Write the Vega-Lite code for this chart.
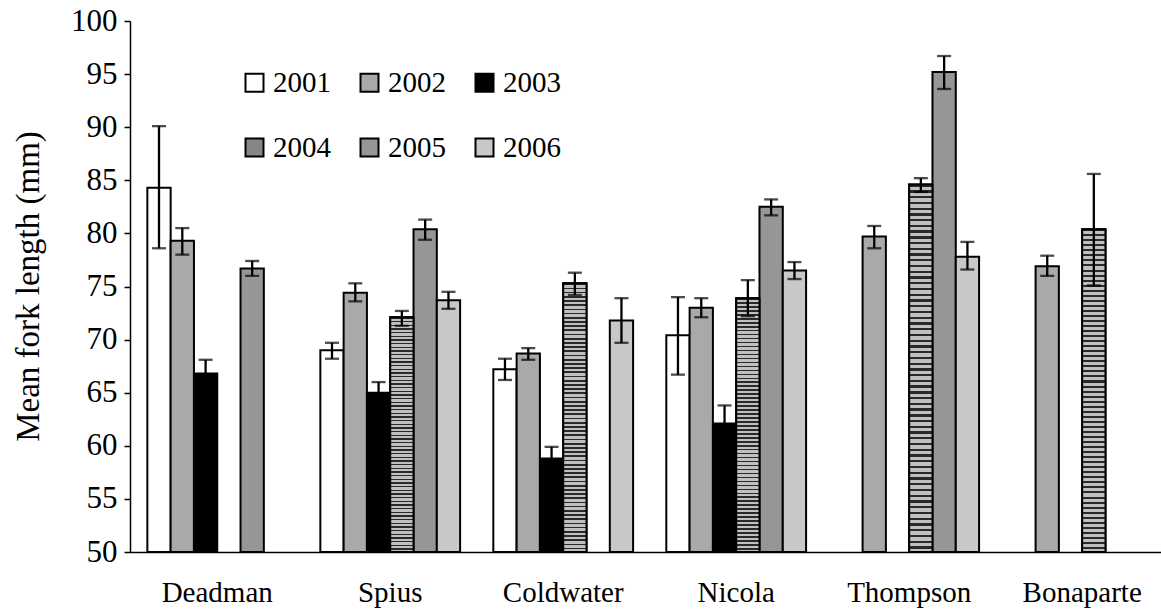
{
  "$schema": "https://vega.github.io/schema/vega-lite/v6.json",
  "autosize": {"type": "none"},
  "padding": {"left": 130, "top": 21, "right": 0, "bottom": 59},
  "width": 1031,
  "height": 531,
  "background": "white",
  "config": {
    "view": {"stroke": null},
    "font": "Liberation Serif",
    "axis": {"labelFont": "Liberation Serif", "titleFont": "Liberation Serif", "labelColor": "black", "titleColor": "black", "domainColor": "black", "tickColor": "black", "grid": false},
    "legend": {"labelFont": "Liberation Serif"}
  },
  "data": {
    "values": [
      {"site": "Deadman", "year": "2001", "mean": 84.3, "lo": 78.6, "hi": 90.1},
      {"site": "Deadman", "year": "2002", "mean": 79.3, "lo": 78.0, "hi": 80.5},
      {"site": "Deadman", "year": "2003", "mean": 66.8, "lo": 65.6, "hi": 68.1},
      {"site": "Deadman", "year": "2005", "mean": 76.7, "lo": 76.0, "hi": 77.4},
      {"site": "Spius", "year": "2001", "mean": 69.0, "lo": 68.2, "hi": 69.7},
      {"site": "Spius", "year": "2002", "mean": 74.4, "lo": 73.6, "hi": 75.3},
      {"site": "Spius", "year": "2003", "mean": 65.0, "lo": 64.0, "hi": 66.0},
      {"site": "Spius", "year": "2004", "mean": 72.1, "lo": 71.3, "hi": 72.7},
      {"site": "Spius", "year": "2005", "mean": 80.4, "lo": 79.4, "hi": 81.3},
      {"site": "Spius", "year": "2006", "mean": 73.7, "lo": 72.9, "hi": 74.5},
      {"site": "Coldwater", "year": "2001", "mean": 67.2, "lo": 66.2, "hi": 68.2},
      {"site": "Coldwater", "year": "2002", "mean": 68.7, "lo": 68.1, "hi": 69.2},
      {"site": "Coldwater", "year": "2003", "mean": 58.8, "lo": 57.7, "hi": 59.9},
      {"site": "Coldwater", "year": "2004", "mean": 75.3, "lo": 74.2, "hi": 76.3},
      {"site": "Coldwater", "year": "2006", "mean": 71.8, "lo": 69.7, "hi": 73.9},
      {"site": "Nicola", "year": "2001", "mean": 70.4, "lo": 66.7, "hi": 74.0},
      {"site": "Nicola", "year": "2002", "mean": 73.0, "lo": 72.1, "hi": 73.9},
      {"site": "Nicola", "year": "2003", "mean": 62.1, "lo": 60.3, "hi": 63.8},
      {"site": "Nicola", "year": "2004", "mean": 73.9, "lo": 72.2, "hi": 75.6},
      {"site": "Nicola", "year": "2005", "mean": 82.5, "lo": 81.7, "hi": 83.2},
      {"site": "Nicola", "year": "2006", "mean": 76.5, "lo": 75.7, "hi": 77.3},
      {"site": "Thompson", "year": "2002", "mean": 79.7, "lo": 78.6, "hi": 80.7},
      {"site": "Thompson", "year": "2004", "mean": 84.6, "lo": 83.9, "hi": 85.2},
      {"site": "Thompson", "year": "2005", "mean": 95.2, "lo": 93.6, "hi": 96.7},
      {"site": "Thompson", "year": "2006", "mean": 77.8, "lo": 76.6, "hi": 79.2},
      {"site": "Bonaparte", "year": "2002", "mean": 76.9, "lo": 76.0, "hi": 77.9},
      {"site": "Bonaparte", "year": "2004", "mean": 80.4, "lo": 75.1, "hi": 85.6}
    ]
  },
  "encoding": {
    "x": {
      "field": "site", "type": "nominal",
      "sort": ["Deadman", "Spius", "Coldwater", "Nicola", "Thompson", "Bonaparte"],
      "scale": {"paddingInner": 0.192, "paddingOuter": 0.076, "align": 0.66},
      "axis": {"title": null, "labelAngle": 0, "labelFont": "Liberation Serif", "labelFontSize": 29, "labelPadding": 26, "ticks": false, "domainWidth": 1.5}
    },
    "xOffset": {
      "field": "year", "type": "nominal",
      "scale": {"domain": ["2001", "2002", "2003", "2004", "2005", "2006"], "paddingInner": 0, "paddingOuter": 0}
    }
  },
  "layer": [
    {
      "mark": {"type": "bar", "stroke": "black", "strokeWidth": 2},
      "encoding": {
        "y": {
          "field": "mean", "type": "quantitative",
          "scale": {"domain": [50, 100], "nice": false, "zero": false},
          "axis": {"title": "Mean fork length (mm)", "values": [50, 55, 60, 65, 70, 75, 80, 85, 90, 95, 100], "labelFont": "Liberation Serif", "labelFontSize": 31, "labelPadding": 7, "tickSize": 6, "tickWidth": 1.5, "domainWidth": 1.5, "titleFont": "Liberation Serif", "titleFontSize": 33, "titleFontWeight": "normal", "titleX": -102, "titleY": 265, "titleAlign": "center", "titleBaseline": "middle", "titleAngle": -90}
        },
        "y2": {"datum": 50},
        "fill": {
          "field": "year", "type": "nominal",
          "scale": {
            "domain": ["2001", "2002", "2003", "2004", "2005", "2006"],
            "range": ["#ffffff", "#a9a9a9", "#000000", "#868686", "#969696", "#c8c8c8"]
          },
          "legend": {
            "title": null, "orient": "none", "legendX": 110, "legendY": 47,
            "direction": "horizontal", "columns": 3, "columnPadding": 24, "rowPadding": 35,
            "symbolType": "square", "symbolSize": 324, "symbolStrokeColor": "black", "symbolStrokeWidth": 2,
            "labelFont": "Liberation Serif", "labelFontSize": 29, "labelColor": "black", "labelOffset": 4
          }
        }
      }
    },
    {
      "transform": [{"filter": "datum.year == '2004'"}],
      "mark": {
        "type": "bar", "stroke": "black", "strokeWidth": 2,
        "fill": {
          "gradient": "linear", "x1": 0, "y1": 0, "x2": 0, "y2": 1,
          "stops": [
            {"offset": 0, "color": "#2a2a2a"}, {"offset": 0.00625, "color": "#2a2a2a"}, {"offset": 0.00625, "color": "#c0c0c0"}, {"offset": 0.015625, "color": "#c0c0c0"},
            {"offset": 0.015625, "color": "#2a2a2a"}, {"offset": 0.021875, "color": "#2a2a2a"}, {"offset": 0.021875, "color": "#c0c0c0"}, {"offset": 0.03125, "color": "#c0c0c0"},
            {"offset": 0.03125, "color": "#2a2a2a"}, {"offset": 0.0375, "color": "#2a2a2a"}, {"offset": 0.0375, "color": "#c0c0c0"}, {"offset": 0.046875, "color": "#c0c0c0"},
            {"offset": 0.046875, "color": "#2a2a2a"}, {"offset": 0.053125, "color": "#2a2a2a"}, {"offset": 0.053125, "color": "#c0c0c0"}, {"offset": 0.0625, "color": "#c0c0c0"},
            {"offset": 0.0625, "color": "#2a2a2a"}, {"offset": 0.06875, "color": "#2a2a2a"}, {"offset": 0.06875, "color": "#c0c0c0"}, {"offset": 0.078125, "color": "#c0c0c0"},
            {"offset": 0.078125, "color": "#2a2a2a"}, {"offset": 0.084375, "color": "#2a2a2a"}, {"offset": 0.084375, "color": "#c0c0c0"}, {"offset": 0.09375, "color": "#c0c0c0"},
            {"offset": 0.09375, "color": "#2a2a2a"}, {"offset": 0.1, "color": "#2a2a2a"}, {"offset": 0.1, "color": "#c0c0c0"}, {"offset": 0.109375, "color": "#c0c0c0"},
            {"offset": 0.109375, "color": "#2a2a2a"}, {"offset": 0.115625, "color": "#2a2a2a"}, {"offset": 0.115625, "color": "#c0c0c0"}, {"offset": 0.125, "color": "#c0c0c0"},
            {"offset": 0.125, "color": "#2a2a2a"}, {"offset": 0.13125, "color": "#2a2a2a"}, {"offset": 0.13125, "color": "#c0c0c0"}, {"offset": 0.140625, "color": "#c0c0c0"},
            {"offset": 0.140625, "color": "#2a2a2a"}, {"offset": 0.146875, "color": "#2a2a2a"}, {"offset": 0.146875, "color": "#c0c0c0"}, {"offset": 0.15625, "color": "#c0c0c0"},
            {"offset": 0.15625, "color": "#2a2a2a"}, {"offset": 0.1625, "color": "#2a2a2a"}, {"offset": 0.1625, "color": "#c0c0c0"}, {"offset": 0.171875, "color": "#c0c0c0"},
            {"offset": 0.171875, "color": "#2a2a2a"}, {"offset": 0.178125, "color": "#2a2a2a"}, {"offset": 0.178125, "color": "#c0c0c0"}, {"offset": 0.1875, "color": "#c0c0c0"},
            {"offset": 0.1875, "color": "#2a2a2a"}, {"offset": 0.19375, "color": "#2a2a2a"}, {"offset": 0.19375, "color": "#c0c0c0"}, {"offset": 0.203125, "color": "#c0c0c0"},
            {"offset": 0.203125, "color": "#2a2a2a"}, {"offset": 0.209375, "color": "#2a2a2a"}, {"offset": 0.209375, "color": "#c0c0c0"}, {"offset": 0.21875, "color": "#c0c0c0"},
            {"offset": 0.21875, "color": "#2a2a2a"}, {"offset": 0.225, "color": "#2a2a2a"}, {"offset": 0.225, "color": "#c0c0c0"}, {"offset": 0.234375, "color": "#c0c0c0"},
            {"offset": 0.234375, "color": "#2a2a2a"}, {"offset": 0.240625, "color": "#2a2a2a"}, {"offset": 0.240625, "color": "#c0c0c0"}, {"offset": 0.25, "color": "#c0c0c0"},
            {"offset": 0.25, "color": "#2a2a2a"}, {"offset": 0.25625, "color": "#2a2a2a"}, {"offset": 0.25625, "color": "#c0c0c0"}, {"offset": 0.265625, "color": "#c0c0c0"},
            {"offset": 0.265625, "color": "#2a2a2a"}, {"offset": 0.271875, "color": "#2a2a2a"}, {"offset": 0.271875, "color": "#c0c0c0"}, {"offset": 0.28125, "color": "#c0c0c0"},
            {"offset": 0.28125, "color": "#2a2a2a"}, {"offset": 0.2875, "color": "#2a2a2a"}, {"offset": 0.2875, "color": "#c0c0c0"}, {"offset": 0.296875, "color": "#c0c0c0"},
            {"offset": 0.296875, "color": "#2a2a2a"}, {"offset": 0.303125, "color": "#2a2a2a"}, {"offset": 0.303125, "color": "#c0c0c0"}, {"offset": 0.3125, "color": "#c0c0c0"},
            {"offset": 0.3125, "color": "#2a2a2a"}, {"offset": 0.31875, "color": "#2a2a2a"}, {"offset": 0.31875, "color": "#c0c0c0"}, {"offset": 0.328125, "color": "#c0c0c0"},
            {"offset": 0.328125, "color": "#2a2a2a"}, {"offset": 0.334375, "color": "#2a2a2a"}, {"offset": 0.334375, "color": "#c0c0c0"}, {"offset": 0.34375, "color": "#c0c0c0"},
            {"offset": 0.34375, "color": "#2a2a2a"}, {"offset": 0.35, "color": "#2a2a2a"}, {"offset": 0.35, "color": "#c0c0c0"}, {"offset": 0.359375, "color": "#c0c0c0"},
            {"offset": 0.359375, "color": "#2a2a2a"}, {"offset": 0.365625, "color": "#2a2a2a"}, {"offset": 0.365625, "color": "#c0c0c0"}, {"offset": 0.375, "color": "#c0c0c0"},
            {"offset": 0.375, "color": "#2a2a2a"}, {"offset": 0.38125, "color": "#2a2a2a"}, {"offset": 0.38125, "color": "#c0c0c0"}, {"offset": 0.390625, "color": "#c0c0c0"},
            {"offset": 0.390625, "color": "#2a2a2a"}, {"offset": 0.396875, "color": "#2a2a2a"}, {"offset": 0.396875, "color": "#c0c0c0"}, {"offset": 0.40625, "color": "#c0c0c0"},
            {"offset": 0.40625, "color": "#2a2a2a"}, {"offset": 0.4125, "color": "#2a2a2a"}, {"offset": 0.4125, "color": "#c0c0c0"}, {"offset": 0.421875, "color": "#c0c0c0"},
            {"offset": 0.421875, "color": "#2a2a2a"}, {"offset": 0.428125, "color": "#2a2a2a"}, {"offset": 0.428125, "color": "#c0c0c0"}, {"offset": 0.4375, "color": "#c0c0c0"},
            {"offset": 0.4375, "color": "#2a2a2a"}, {"offset": 0.44375, "color": "#2a2a2a"}, {"offset": 0.44375, "color": "#c0c0c0"}, {"offset": 0.453125, "color": "#c0c0c0"},
            {"offset": 0.453125, "color": "#2a2a2a"}, {"offset": 0.459375, "color": "#2a2a2a"}, {"offset": 0.459375, "color": "#c0c0c0"}, {"offset": 0.46875, "color": "#c0c0c0"},
            {"offset": 0.46875, "color": "#2a2a2a"}, {"offset": 0.475, "color": "#2a2a2a"}, {"offset": 0.475, "color": "#c0c0c0"}, {"offset": 0.484375, "color": "#c0c0c0"},
            {"offset": 0.484375, "color": "#2a2a2a"}, {"offset": 0.490625, "color": "#2a2a2a"}, {"offset": 0.490625, "color": "#c0c0c0"}, {"offset": 0.5, "color": "#c0c0c0"},
            {"offset": 0.5, "color": "#2a2a2a"}, {"offset": 0.50625, "color": "#2a2a2a"}, {"offset": 0.50625, "color": "#c0c0c0"}, {"offset": 0.515625, "color": "#c0c0c0"},
            {"offset": 0.515625, "color": "#2a2a2a"}, {"offset": 0.521875, "color": "#2a2a2a"}, {"offset": 0.521875, "color": "#c0c0c0"}, {"offset": 0.53125, "color": "#c0c0c0"},
            {"offset": 0.53125, "color": "#2a2a2a"}, {"offset": 0.5375, "color": "#2a2a2a"}, {"offset": 0.5375, "color": "#c0c0c0"}, {"offset": 0.546875, "color": "#c0c0c0"},
            {"offset": 0.546875, "color": "#2a2a2a"}, {"offset": 0.553125, "color": "#2a2a2a"}, {"offset": 0.553125, "color": "#c0c0c0"}, {"offset": 0.5625, "color": "#c0c0c0"},
            {"offset": 0.5625, "color": "#2a2a2a"}, {"offset": 0.56875, "color": "#2a2a2a"}, {"offset": 0.56875, "color": "#c0c0c0"}, {"offset": 0.578125, "color": "#c0c0c0"},
            {"offset": 0.578125, "color": "#2a2a2a"}, {"offset": 0.584375, "color": "#2a2a2a"}, {"offset": 0.584375, "color": "#c0c0c0"}, {"offset": 0.59375, "color": "#c0c0c0"},
            {"offset": 0.59375, "color": "#2a2a2a"}, {"offset": 0.6, "color": "#2a2a2a"}, {"offset": 0.6, "color": "#c0c0c0"}, {"offset": 0.609375, "color": "#c0c0c0"},
            {"offset": 0.609375, "color": "#2a2a2a"}, {"offset": 0.615625, "color": "#2a2a2a"}, {"offset": 0.615625, "color": "#c0c0c0"}, {"offset": 0.625, "color": "#c0c0c0"},
            {"offset": 0.625, "color": "#2a2a2a"}, {"offset": 0.63125, "color": "#2a2a2a"}, {"offset": 0.63125, "color": "#c0c0c0"}, {"offset": 0.640625, "color": "#c0c0c0"},
            {"offset": 0.640625, "color": "#2a2a2a"}, {"offset": 0.646875, "color": "#2a2a2a"}, {"offset": 0.646875, "color": "#c0c0c0"}, {"offset": 0.65625, "color": "#c0c0c0"},
            {"offset": 0.65625, "color": "#2a2a2a"}, {"offset": 0.6625, "color": "#2a2a2a"}, {"offset": 0.6625, "color": "#c0c0c0"}, {"offset": 0.671875, "color": "#c0c0c0"},
            {"offset": 0.671875, "color": "#2a2a2a"}, {"offset": 0.678125, "color": "#2a2a2a"}, {"offset": 0.678125, "color": "#c0c0c0"}, {"offset": 0.6875, "color": "#c0c0c0"},
            {"offset": 0.6875, "color": "#2a2a2a"}, {"offset": 0.69375, "color": "#2a2a2a"}, {"offset": 0.69375, "color": "#c0c0c0"}, {"offset": 0.703125, "color": "#c0c0c0"},
            {"offset": 0.703125, "color": "#2a2a2a"}, {"offset": 0.709375, "color": "#2a2a2a"}, {"offset": 0.709375, "color": "#c0c0c0"}, {"offset": 0.71875, "color": "#c0c0c0"},
            {"offset": 0.71875, "color": "#2a2a2a"}, {"offset": 0.725, "color": "#2a2a2a"}, {"offset": 0.725, "color": "#c0c0c0"}, {"offset": 0.734375, "color": "#c0c0c0"},
            {"offset": 0.734375, "color": "#2a2a2a"}, {"offset": 0.740625, "color": "#2a2a2a"}, {"offset": 0.740625, "color": "#c0c0c0"}, {"offset": 0.75, "color": "#c0c0c0"},
            {"offset": 0.75, "color": "#2a2a2a"}, {"offset": 0.75625, "color": "#2a2a2a"}, {"offset": 0.75625, "color": "#c0c0c0"}, {"offset": 0.765625, "color": "#c0c0c0"},
            {"offset": 0.765625, "color": "#2a2a2a"}, {"offset": 0.771875, "color": "#2a2a2a"}, {"offset": 0.771875, "color": "#c0c0c0"}, {"offset": 0.78125, "color": "#c0c0c0"},
            {"offset": 0.78125, "color": "#2a2a2a"}, {"offset": 0.7875, "color": "#2a2a2a"}, {"offset": 0.7875, "color": "#c0c0c0"}, {"offset": 0.796875, "color": "#c0c0c0"},
            {"offset": 0.796875, "color": "#2a2a2a"}, {"offset": 0.803125, "color": "#2a2a2a"}, {"offset": 0.803125, "color": "#c0c0c0"}, {"offset": 0.8125, "color": "#c0c0c0"},
            {"offset": 0.8125, "color": "#2a2a2a"}, {"offset": 0.81875, "color": "#2a2a2a"}, {"offset": 0.81875, "color": "#c0c0c0"}, {"offset": 0.828125, "color": "#c0c0c0"},
            {"offset": 0.828125, "color": "#2a2a2a"}, {"offset": 0.834375, "color": "#2a2a2a"}, {"offset": 0.834375, "color": "#c0c0c0"}, {"offset": 0.84375, "color": "#c0c0c0"},
            {"offset": 0.84375, "color": "#2a2a2a"}, {"offset": 0.85, "color": "#2a2a2a"}, {"offset": 0.85, "color": "#c0c0c0"}, {"offset": 0.859375, "color": "#c0c0c0"},
            {"offset": 0.859375, "color": "#2a2a2a"}, {"offset": 0.865625, "color": "#2a2a2a"}, {"offset": 0.865625, "color": "#c0c0c0"}, {"offset": 0.875, "color": "#c0c0c0"},
            {"offset": 0.875, "color": "#2a2a2a"}, {"offset": 0.88125, "color": "#2a2a2a"}, {"offset": 0.88125, "color": "#c0c0c0"}, {"offset": 0.890625, "color": "#c0c0c0"},
            {"offset": 0.890625, "color": "#2a2a2a"}, {"offset": 0.896875, "color": "#2a2a2a"}, {"offset": 0.896875, "color": "#c0c0c0"}, {"offset": 0.90625, "color": "#c0c0c0"},
            {"offset": 0.90625, "color": "#2a2a2a"}, {"offset": 0.9125, "color": "#2a2a2a"}, {"offset": 0.9125, "color": "#c0c0c0"}, {"offset": 0.921875, "color": "#c0c0c0"},
            {"offset": 0.921875, "color": "#2a2a2a"}, {"offset": 0.928125, "color": "#2a2a2a"}, {"offset": 0.928125, "color": "#c0c0c0"}, {"offset": 0.9375, "color": "#c0c0c0"},
            {"offset": 0.9375, "color": "#2a2a2a"}, {"offset": 0.94375, "color": "#2a2a2a"}, {"offset": 0.94375, "color": "#c0c0c0"}, {"offset": 0.953125, "color": "#c0c0c0"},
            {"offset": 0.953125, "color": "#2a2a2a"}, {"offset": 0.959375, "color": "#2a2a2a"}, {"offset": 0.959375, "color": "#c0c0c0"}, {"offset": 0.96875, "color": "#c0c0c0"},
            {"offset": 0.96875, "color": "#2a2a2a"}, {"offset": 0.975, "color": "#2a2a2a"}, {"offset": 0.975, "color": "#c0c0c0"}, {"offset": 0.984375, "color": "#c0c0c0"},
            {"offset": 0.984375, "color": "#2a2a2a"}, {"offset": 0.990625, "color": "#2a2a2a"}, {"offset": 0.990625, "color": "#c0c0c0"}, {"offset": 1, "color": "#c0c0c0"}
          ]
        }
      },
      "encoding": {
        "y": {"field": "mean", "type": "quantitative"},
        "y2": {"datum": 50}
      }
    },
    {
      "mark": {"type": "rule", "color": "black", "strokeWidth": 2.3},
      "encoding": {
        "y": {"field": "lo", "type": "quantitative"},
        "y2": {"field": "hi"}
      }
    },
    {
      "mark": {"type": "tick", "color": "black", "size": 14, "thickness": 2.3, "orient": "horizontal"},
      "encoding": {"y": {"field": "lo", "type": "quantitative"}}
    },
    {
      "mark": {"type": "tick", "color": "black", "size": 14, "thickness": 2.3, "orient": "horizontal"},
      "encoding": {"y": {"field": "hi", "type": "quantitative"}}
    }
  ]
}
